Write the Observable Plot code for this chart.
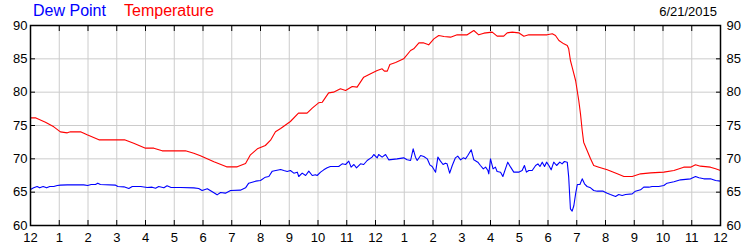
<!DOCTYPE html>
<html><head><meta charset="utf-8">
<script src="https://cdn.jsdelivr.net/npm/d3@7"></script>
<script src="https://cdn.jsdelivr.net/npm/@observablehq/plot@0.6"></script>
<style>
body{margin:0;background:#fff;font-family:"Liberation Sans",Arial,sans-serif}
#wrap{position:relative;width:750px;height:250px;overflow:hidden}
.t{position:absolute;white-space:nowrap}
</style></head><body>
<div id="wrap"></div>
<script>
// Hours since midnight, 6/21/2015
const tempHours = [0.00,0.17,0.52,0.81,1.04,1.28,1.39,1.74,1.97,2.38,3.27,3.59,4.00,4.29,4.58,5.39,5.68,5.91,6.38,6.82,7.19,7.48,7.65,7.89,8.17,8.35,8.52,8.70,9.04,9.32,9.62,9.80,10.02,10.15,10.37,10.54,10.78,10.96,11.19,11.36,11.59,11.83,12.06,12.23,12.31,12.41,12.50,12.70,12.98,13.22,13.33,13.51,13.66,13.85,14.03,14.20,14.38,14.61,14.84,15.19,15.42,15.59,15.77,16.06,16.23,16.46,16.58,16.75,16.98,17.16,17.33,17.97,18.15,18.26,18.38,18.55,18.67,18.72,18.78,18.84,18.96,19.07,19.13,19.19,19.24,19.36,19.48,19.59,19.77,20.06,20.41,20.64,20.93,21.22,21.57,22.03,22.38,22.72,22.96,23.13,23.30,23.65,23.83,24.00];
const tempValues = [76.15,76.15,75.5,74.8,74.05,73.9,74.05,74.05,73.6,72.85,72.85,72.35,71.6,71.6,71.2,71.2,70.85,70.45,69.55,68.8,68.8,69.3,70.6,71.5,72.0,72.8,74.05,74.55,75.6,76.85,76.85,77.6,78.4,78.5,79.9,80.0,80.5,80.25,80.85,80.75,82.25,82.75,83.25,83.5,83.15,83.15,84.15,84.45,85.0,86.25,86.5,87.4,87.4,87.1,88.0,88.5,88.35,88.25,88.6,88.6,89.25,88.6,88.85,89.0,88.4,88.4,88.9,89.0,88.9,88.4,88.6,88.6,88.75,88.5,87.75,87.25,87.0,86.5,84.75,83.75,81.75,78.75,76.75,74.25,72.5,71.25,70.0,69.0,68.75,68.35,67.75,67.35,67.35,67.75,67.9,68.0,68.25,68.75,68.75,69.1,68.9,68.75,68.5,68.25];

const dewHours = [0.00,0.11,0.23,0.32,0.44,0.56,0.67,0.81,0.93,1.04,1.28,1.85,1.99,2.11,2.26,2.34,2.43,2.96,3.04,3.25,3.42,3.54,3.83,4.06,4.23,4.35,4.46,4.64,4.75,4.89,5.22,5.68,5.85,5.97,6.15,6.38,6.49,6.61,6.78,6.96,7.30,7.48,7.59,7.83,8.00,8.17,8.29,8.41,8.70,8.81,8.93,9.04,9.16,9.28,9.33,9.45,9.57,9.68,9.80,9.91,9.97,10.09,10.20,10.32,10.43,10.72,10.84,10.96,11.07,11.15,11.25,11.34,11.48,11.59,11.71,11.88,11.94,12.06,12.11,12.23,12.35,12.46,12.75,12.98,13.10,13.22,13.31,13.39,13.45,13.57,13.68,13.80,13.89,13.97,14.09,14.17,14.26,14.35,14.43,14.49,14.58,14.67,14.78,14.86,14.96,15.05,15.13,15.21,15.33,15.42,15.56,15.65,15.75,15.83,15.91,15.94,16.00,16.09,16.17,16.23,16.35,16.43,16.52,16.60,16.70,16.81,16.98,17.10,17.18,17.25,17.33,17.45,17.57,17.65,17.72,17.80,17.88,17.95,18.03,18.11,18.20,18.30,18.41,18.49,18.57,18.67,18.72,18.78,18.84,18.90,18.96,19.02,19.11,19.19,19.27,19.36,19.48,19.59,19.71,19.92,20.06,20.17,20.35,20.46,20.58,20.70,20.93,21.04,21.22,21.33,21.51,21.62,21.85,22.03,22.14,22.38,22.61,22.96,23.13,23.25,23.42,23.65,23.83,24.00];
const dewValues = [65.4,65.65,65.85,65.65,65.85,65.65,65.85,65.85,66.0,66.05,66.1,66.1,66.0,66.15,66.15,66.35,66.15,66.05,65.85,65.8,65.55,65.85,65.85,65.7,65.75,65.6,65.85,65.65,65.95,65.7,65.7,65.65,65.55,65.25,65.5,64.9,64.6,64.95,64.85,65.25,65.3,65.65,66.35,66.65,66.75,67.25,67.35,68.15,68.4,68.25,68.1,68.25,67.85,68.0,67.35,67.85,67.5,68.15,67.5,67.6,67.5,68.0,68.35,68.65,68.85,68.85,69.25,69.15,69.65,68.75,69.15,68.65,69.25,69.15,69.75,70.25,70.65,70.15,70.65,70.25,70.65,69.85,70.0,70.15,69.85,69.75,71.5,70.25,69.75,70.5,70.35,70.0,69.1,68.85,68.0,70.25,69.65,69.15,69.35,69.25,67.85,69.0,70.15,70.4,69.85,70.15,70.0,70.5,71.35,69.85,69.5,69.0,68.5,68.75,68.25,67.75,70.0,68.5,68.75,68.1,68.0,67.35,68.5,69.5,68.75,68.0,68.0,68.25,69.0,68.0,68.25,68.25,69.0,69.25,68.85,69.5,68.85,69.5,69.0,68.35,69.5,69.0,69.5,69.25,69.6,69.5,67.25,62.5,62.15,63.0,64.75,66.15,66.15,67.0,66.25,65.85,65.65,65.25,65.15,65.15,64.85,64.65,64.35,64.65,64.5,64.65,64.75,65.15,65.35,65.75,65.75,65.85,65.85,66.0,66.35,66.55,66.85,67.0,67.35,67.15,67.0,67.0,66.75,66.65];

const hourTicks = [0,1,2,3,4,5,6,7,8,9,10,11,12,13,14,15,16,17,18,19,20,21,22,23,24];
const hourLabels = ["12","1","2","3","4","5","6","7","8","9","10","11","12","1","2","3","4","5","6","7","8","9","10","11","12"];
const yTicks = [60,65,70,75,80,85,90];
const seriesNames = ["Dew Point","Temperature"];
const seriesColors = ["#0000ff","#ff0000"];
const dateLabel = "6/21/2015";

const temp = tempHours.map((h,i)=>({h, v: tempValues[i]}));
const dew = dewHours.map((h,i)=>({h, v: dewValues[i]}));

const grid = "#cccccc";
const chart = Plot.plot({
  width: 750, height: 250,
  marginLeft: 30, marginRight: 30, marginTop: 25, marginBottom: 25,
  x: {domain: [0, 24], label: null},
  y: {domain: [60, 90], label: null},
  style: {fontFamily: "'Liberation Sans', Arial, sans-serif", fontSize: "13px", color: "#000", background: "#fff", overflow: "visible"},
  marks: [
    Plot.gridX(hourTicks, {stroke: grid, strokeOpacity: 1}),
    Plot.gridY(yTicks, {stroke: grid, strokeOpacity: 1}),
    Plot.line(dew, {x: "h", y: "v", stroke: seriesColors[0], strokeWidth: 1.1}),
    Plot.line(temp, {x: "h", y: "v", stroke: seriesColors[1], strokeWidth: 1.1}),
    Plot.frame({stroke: "#000", strokeWidth: 1.5}),
    Plot.axisX(hourTicks, {anchor: "bottom", tickSize: 0, tickPadding: 7, tickFormat: d => hourLabels[d], label: null}),
    Plot.axisX(hourTicks, {anchor: "bottom", tickSize: 5, dy: -5, fill: "none", label: null}),
    Plot.axisX(hourTicks, {anchor: "top", tickSize: 5, dy: 5, fill: "none", label: null}),
    Plot.axisY(yTicks, {anchor: "left", tickSize: 0, tickPadding: 3, label: null}),
    Plot.axisY(yTicks, {anchor: "left", tickSize: 5, dx: 5, fill: "none", label: null}),
    Plot.axisY(yTicks, {anchor: "right", tickSize: 0, tickPadding: 6, label: null}),
    Plot.axisY(yTicks, {anchor: "right", tickSize: 5, dx: -5, fill: "none", label: null})
  ]
});
const wrap = document.getElementById("wrap");
wrap.appendChild(chart);
function addText(txt, css){ const d=document.createElement("div"); d.className="t"; d.textContent=txt; Object.assign(d.style, css); wrap.appendChild(d); }
addText(seriesNames[0], {left:"33px", top:"2px", fontSize:"16px", lineHeight:"18px", color:seriesColors[0]});
addText(seriesNames[1], {left:"124px", top:"2px", fontSize:"16px", lineHeight:"18px", color:seriesColors[1]});
addText(dateLabel, {right:"33px", top:"4px", fontSize:"13px", lineHeight:"15px", color:"#000"});
</script>
</body></html>
